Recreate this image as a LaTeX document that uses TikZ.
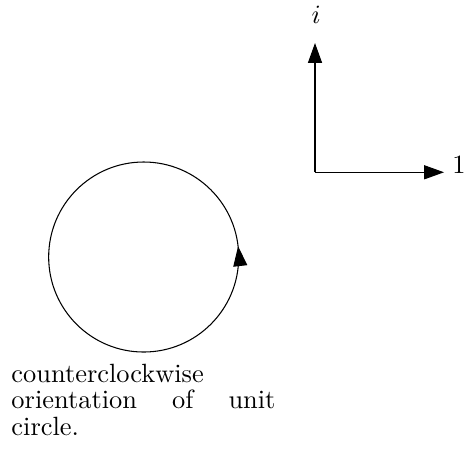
\documentclass[tikz,border=0pt]{standalone}
\usepackage{amsmath}
\usetikzlibrary{arrows.meta, positioning, decorations.markings}

\begin{document}
\begin{tikzpicture}[
  every node/.style={inner sep=0pt},
  >={Triangle[length=7.5pt, width=5.3pt]},
  orient/.style={postaction={decorate},
    decoration={markings, mark=at position 0.018 with {\arrow{>}}}}
]
\useasboundingbox (0,0) rectangle (6.178,6.072);
% Nodes
\coordinate (O) at (4.194,3.778);
\coordinate (re) at (5.912,3.778);
\coordinate (im) at (4.194,5.499);
\node (one) at (6.11,3.875) {$1$};
\node (i) at (4.208,5.872) {$i$};
\coordinate (C) at (1.913,2.650);
\node[anchor=north west, text width=100pt, align=justify,
  font=\fontsize{10}{10}\selectfont] (caption) at (0.146,1.234)
  {counterclockwise\\ orientation of unit \mbox{circle.}};
% Arrows
\draw[->] (O) -- (re);
\draw[->] (O) -- (im);
\draw[orient] (C) circle (1.265);
\end{tikzpicture}
\end{document}
